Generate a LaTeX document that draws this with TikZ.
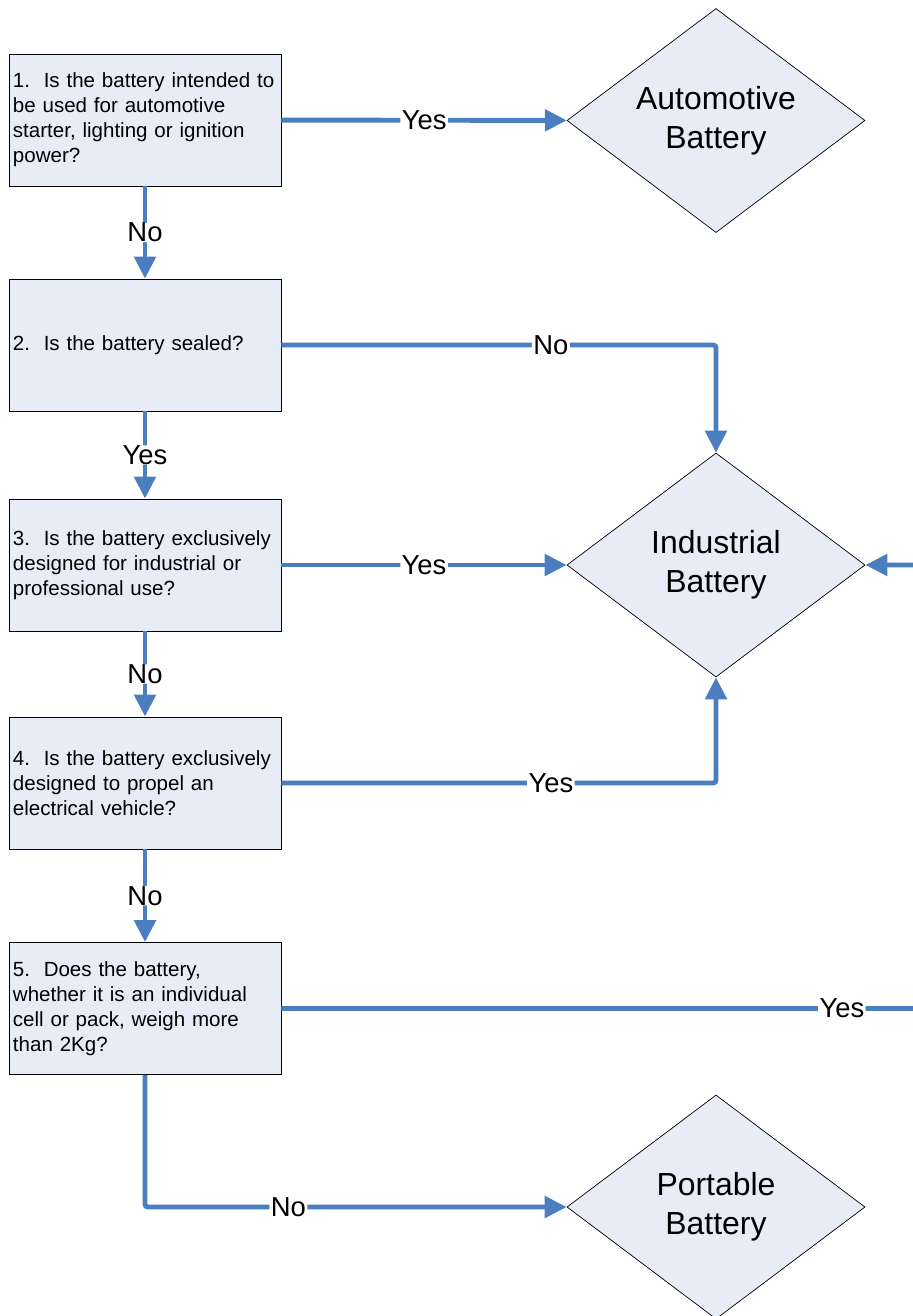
\documentclass[tikz,border=0pt]{standalone}
\usepackage{fontspec}
\setmainfont{Liberation Sans}
\usetikzlibrary{shapes.geometric,arrows.meta,positioning}

\definecolor{flowblue}{HTML}{4A7EBF}
\definecolor{boxfill}{HTML}{E7ECF7}

\tikzset{
    question/.style={rectangle, draw=black, line width=0.6pt, fill=boxfill,
        minimum width=6.8cm, minimum height=3.3cm, text width=6.6cm,
        inner xsep=0.1cm, inner ysep=0pt, align=left,
        font={\fontsize{14.6}{17.7}\selectfont}},
    result/.style={diamond, draw=black, line width=0.5pt, fill=boxfill,
        minimum width=7.45cm, minimum height=5.6cm, shape aspect=1.34,
        inner sep=0pt, align=center,
        font={\fontsize{22.7}{27.7}\selectfont}},
    flow/.style={draw=flowblue, line width=3.5pt, rounded corners=2pt,
        -{Triangle[length=0.55cm,width=0.53cm]}},
    answer/.style={fill=white, text=black, inner xsep=1pt, inner ysep=0pt,
        font={\fontsize{19.5}{21}\selectfont}}
}

\begin{document}
\begin{tikzpicture}[x=0.025cm,y=-0.025cm]
    \useasboundingbox (0,0) rectangle (913,1316);
    \clip (0,0) rectangle (913,1316);

    % Questions
    \node[question] (q1) at (145,120) {1.\ \ Is the battery intended to\\be used for automotive\\starter, lighting or ignition\\power?};
    \node[question] (q2) at (145,345) {2.\ \ Is the battery sealed?};
    \node[question] (q3) at (145,565) {3.\ \ Is the battery exclusively\\designed for industrial or\\professional use?};
    \node[question] (q4) at (145,783) {4.\ \ Is the battery exclusively\\designed to propel an\\electrical vehicle?};
    \node[question] (q5) at (145,1008.5) {5.\ \ Does the battery,\\whether it is an individual\\cell or pack, weigh more\\than 2Kg?};

    % Outcomes
    \node[result] (auto) at (716,120.5) {Automotive\\Battery};
    \node[result] (ind) at (716,565) {Industrial\\Battery};
    \node[result] (port) at (716,1207) {Portable\\Battery};

    % Return path beyond the right edge
    \coordinate (side5) at (1000,1008.5);

    % Connectors
    \draw[flow] (q1) -- node[answer]{Yes} (auto);
    \draw[flow] (q1) -- node[answer]{No} (q2);
    \draw[flow] (q2.east) -| node[answer,pos=0.31]{No} (ind.north);
    \draw[flow] (q2) -- node[answer]{Yes} (q3);
    \draw[flow] (q3) -- node[answer]{Yes} (ind);
    \draw[flow] (q3) -- node[answer]{No} (q4);
    \draw[flow] (q4.east) -| node[answer,pos=0.31]{Yes} (ind.south);
    \draw[flow] (q4) -- node[answer]{No} (q5);
    \draw[flow] (q5.east) -- node[answer,pos=0.78]{Yes} (side5) |- (ind.east);
    \draw[flow] (q5.south) |- node[answer,pos=0.67]{No} (port.west);
\end{tikzpicture}
\end{document}
